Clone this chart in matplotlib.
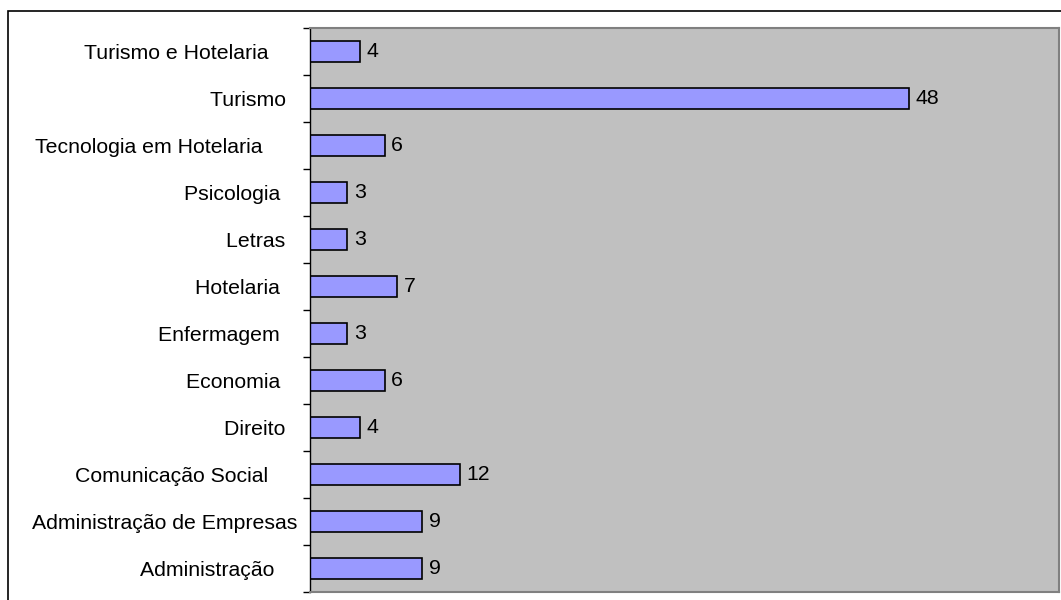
import matplotlib
matplotlib.use("Agg")
import matplotlib.pyplot as plt
from matplotlib.patches import Rectangle
import numpy as np

plt.rcParams['font.family'] = ['Liberation Sans', 'DejaVu Sans']

categories = [
    "Administração    ",
    "Administração de Empresas",
    "Comunicação Social     ",
    "Direito  ",
    "Economia   ",
    "Enfermagem   ",
    "Hotelaria   ",
    "Letras  ",
    "Psicologia   ",
    "Tecnologia em Hotelaria      ",
    "Turismo  ",
    "Turismo e Hotelaria     ",
]
values = [9, 9, 12, 4, 6, 3, 7, 3, 3, 6, 48, 4]

W, H = 1061, 600
fig = plt.figure(figsize=(W / 100, H / 100), dpi=100)
fig.patch.set_facecolor('white')

# outer chart frame (top and left visible, rest cropped)
fig.patches.append(Rectangle((8 / W, -0.1), 1.2, (H - 11) / H + 0.1,
                             transform=fig.transFigure, fill=False,
                             edgecolor='black', linewidth=1.2))

ax = fig.add_axes([310 / W, 8 / H, 749 / W, 564 / H])
ax.set_facecolor('#C0C0C0')

y = np.arange(len(categories))
ax.barh(y, values, height=0.43, color='#9999FF', edgecolor='black', linewidth=1.2)
for yi, v in zip(y, values):
    ax.annotate(str(v), (v, yi), xytext=(4.5, 0), textcoords='offset points',
                va='center', ha='left', fontsize=15.3)

ax.set_xlim(0, 60)
ax.set_ylim(-0.5, len(categories) - 0.5)
ax.set_xticks([])
ax.set_yticks(y)
ax.set_yticklabels(categories, fontsize=15.3)
ax.tick_params(axis='y', which='major', length=0, pad=9)
ax.set_yticks(np.arange(len(categories) + 1) - 0.5, minor=True)
ax.tick_params(axis='y', which='minor', length=5, width=1, color='black', direction='out')

for s in ['top', 'right', 'bottom']:
    ax.spines[s].set_color('#808080')
    ax.spines[s].set_linewidth(1.5)
ax.spines['left'].set_color('black')
ax.spines['left'].set_linewidth(1.0)

fig.savefig('out.png', dpi=100)
